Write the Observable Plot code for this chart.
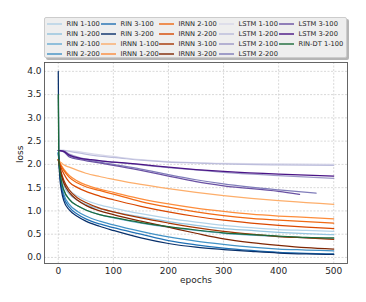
<!DOCTYPE html>
<html><head><meta charset="utf-8">
<script src="https://cdn.jsdelivr.net/npm/d3@7"></script>
<script src="https://cdn.jsdelivr.net/npm/@observablehq/plot@0.6"></script>
<style>
body{margin:0;background:#fff;font-family:"DejaVu Sans",sans-serif;}
#wrap{position:relative;width:366px;height:302px;}
#legend{position:absolute;left:44px;top:17px;width:303px;height:41px;background:#eeeeee;border:1px solid #cccccc;border-radius:2px;box-shadow:2px 2px 0 #b5b5b5;box-sizing:border-box;}
.li{position:absolute;height:10px;font-size:6.7px;color:#222;white-space:nowrap;line-height:10px;}
.sw{position:absolute;left:0;top:4px;width:15px;height:2px;}
.lt{position:absolute;left:19.5px;top:0;}
</style></head>
<body><div id="wrap"><div id="chart"></div><div id="legend"></div></div>
<script>
const seriesNames = ["RIN 1-100","RIN 1-200","RIN 2-100","RIN 2-200","RIN 3-100","RIN 3-200",
  "IRNN 1-100","IRNN 1-200","IRNN 2-100","IRNN 2-200","IRNN 3-100","IRNN 3-200",
  "LSTM 1-100","LSTM 1-200","LSTM 2-100","LSTM 2-200","LSTM 3-100","LSTM 3-200","RIN-DT 1-100"];
const seriesColors = ["#b3d3e8","#94c4df","#6aaed6","#4292c6","#2171b5","#08306b",
  "#fdae6b","#fd8d3c","#f16913","#d94801","#a63603","#7f2704",
  "#dadaeb","#bcbddc","#9e9ac8","#807dba","#6a51a3","#4a1486","#1b6b3a"];

const epochs = [0,1,3,6,10,20,35,50,75,100,150,200,250,300,350,400,450,500];
const rin1_100 = [2.25,2.14,1.95,1.78,1.63,1.45,1.32,1.23,1.13,1.06,0.94,0.84,0.76,0.69,0.64,0.60,0.58,0.56];
const rin1_200 = [2.25,2.13,1.90,1.70,1.55,1.36,1.23,1.14,1.05,0.98,0.87,0.77,0.69,0.62,0.58,0.54,0.51,0.49];
const rin2_100 = [2.25,2.12,1.85,1.62,1.45,1.25,1.11,1.02,0.92,0.85,0.74,0.65,0.58,0.52,0.48,0.45,0.42,0.40];
const rin2_200 = [2.25,2.10,1.80,1.55,1.36,1.14,0.99,0.89,0.78,0.70,0.56,0.44,0.35,0.28,0.22,0.18,0.16,0.14];
const rin3_100 = [2.25,2.10,1.75,1.50,1.30,1.08,0.93,0.83,0.72,0.64,0.50,0.36,0.27,0.20,0.15,0.11,0.09,0.075];
const rin3_200 = [4.00,2.20,1.70,1.42,1.22,1.02,0.88,0.78,0.67,0.58,0.42,0.30,0.22,0.17,0.13,0.095,0.075,0.065];
const irnn1_100 = [2.10,2.09,2.06,2.03,1.99,1.94,1.87,1.81,1.74,1.68,1.57,1.48,1.40,1.33,1.27,1.22,1.18,1.14];
const irnn1_200 = [2.10,2.08,2.03,1.97,1.90,1.76,1.64,1.56,1.47,1.40,1.26,1.15,1.06,0.99,0.93,0.89,0.86,0.83];
const irnn2_100 = [2.10,2.08,2.02,1.95,1.87,1.72,1.60,1.52,1.44,1.36,1.20,1.08,0.98,0.90,0.84,0.80,0.77,0.74];
const irnn2_200 = [2.10,2.07,2.00,1.90,1.80,1.62,1.50,1.42,1.32,1.24,1.10,0.98,0.88,0.80,0.74,0.69,0.65,0.62];
const irnn3_100 = [2.10,2.06,1.95,1.80,1.66,1.45,1.28,1.18,1.06,0.98,0.85,0.74,0.64,0.56,0.50,0.45,0.42,0.39];
const irnn3_200 = [2.10,2.05,1.90,1.75,1.60,1.40,1.23,1.12,1.00,0.92,0.78,0.65,0.52,0.40,0.32,0.26,0.21,0.18];
const rinDt1_100 = [3.50,2.15,1.85,1.62,1.45,1.25,1.11,1.02,0.92,0.86,0.75,0.66,0.59,0.53,0.49,0.46,0.43,0.42];

const lstmEpochs = [0,10,20,40,60,80,100,150,200,250,300,400,500];
const lstm2_200Epochs = [0,10,20,40,60,80,100,150,200,250,300,400,468];
const lstm3_100Epochs = [0,10,20,40,60,80,100,150,200,250,300,400,438];
const lstm1_100 = [2.30,2.30,2.29,2.27,2.23,2.20,2.17,2.10,2.06,2.04,2.02,2.01,2.00];
const lstm1_200 = [2.30,2.30,2.28,2.24,2.20,2.17,2.15,2.09,2.05,2.03,2.01,1.99,1.98];
const lstm2_100 = [2.30,2.29,2.22,2.14,2.10,2.07,2.05,1.99,1.93,1.88,1.83,1.76,1.70];
const lstm2_200 = [2.30,2.28,2.18,2.12,2.08,2.04,2.00,1.90,1.78,1.67,1.58,1.45,1.38];
const lstm3_100 = [2.30,2.27,2.16,2.10,2.06,2.02,1.98,1.87,1.75,1.63,1.54,1.42,1.355];
const lstm3_200 = [2.30,2.28,2.20,2.13,2.10,2.07,2.05,2.00,1.94,1.89,1.85,1.79,1.75];

const xTicks = [0,100,200,300,400,500];
const yTicks = [0,0.5,1,1.5,2,2.5,3,3.5,4];

const seriesData = [
  [epochs,rin1_100],[epochs,rin1_200],[epochs,rin2_100],[epochs,rin2_200],[epochs,rin3_100],[epochs,rin3_200],
  [epochs,irnn1_100],[epochs,irnn1_200],[epochs,irnn2_100],[epochs,irnn2_200],[epochs,irnn3_100],[epochs,irnn3_200],
  [lstmEpochs,lstm1_100],[lstmEpochs,lstm1_200],[lstmEpochs,lstm2_100],[lstm2_200Epochs,lstm2_200],[lstm3_100Epochs,lstm3_100],[lstmEpochs,lstm3_200],
  [epochs,rinDt1_100]
];
const rows = [];
seriesNames.forEach((name,i)=>{
  const [ex,vals]=seriesData[i];
  ex.forEach((e,j)=>rows.push({series:name,epoch:e,loss:vals[j]}));
});

const chart = Plot.plot({
  width:366, height:302,
  marginLeft:44, marginRight:19, marginTop:62, marginBottom:39,
  style:{fontFamily:"DejaVu Sans", fontSize:"9px", color:"#262626", background:"transparent"},
  x:{domain:[-25,525]},
  y:{domain:[-0.13,4.19]},
  color:{domain:seriesNames, range:seriesColors},
  marks:[
    Plot.gridX(xTicks,{stroke:"#c8c8c8", strokeOpacity:1, strokeDasharray:"2,1.5", strokeWidth:0.7}),
    Plot.gridY(yTicks,{stroke:"#c8c8c8", strokeOpacity:1, strokeDasharray:"2,1.5", strokeWidth:0.7}),
    Plot.line(rows,{x:"epoch", y:"loss", z:"series", stroke:"series", strokeWidth:1.25, curve:"monotone-x"}),
    Plot.frame({stroke:"#555", strokeWidth:0.9}),
    Plot.axisX(xTicks,{tickSize:0, tickPadding:4, label:null, fontSize:9}),
    Plot.axisY(yTicks,{tickSize:0, tickPadding:3, label:null, tickFormat:d3.format(".1f"), fontSize:9}),
    Plot.text(["epochs"],{frameAnchor:"bottom", dy:19, text:d=>d, fontSize:9}),
    Plot.text(["loss"],{frameAnchor:"left", dx:-24, rotate:-90, text:d=>d, fontSize:9})
  ]
});
document.getElementById("chart").appendChild(chart);

// legend
const legend = document.getElementById("legend");
const colX = [2, 56, 114, 174, 234];
const rowY = [0.5, 10.5, 20.5, 30.5];
const mix = (c)=>{const a=d3.rgb(c), b=d3.rgb("#e8e8e8"), t=0.3; return d3.rgb(a.r*(1-t)+b.r*t, a.g*(1-t)+b.g*t, a.b*(1-t)+b.b*t).formatHex();};
seriesNames.forEach((name,i)=>{
  const col=Math.floor(i/4), row=i%4;
  const d=document.createElement("div");
  d.className="li";
  d.style.left=colX[col]+"px"; d.style.top=rowY[row]+"px";
  d.innerHTML=`<div class="sw" style="background:${mix(seriesColors[i])}"></div><div class="lt">${name}</div>`;
  legend.appendChild(d);
});
</script></body></html>
